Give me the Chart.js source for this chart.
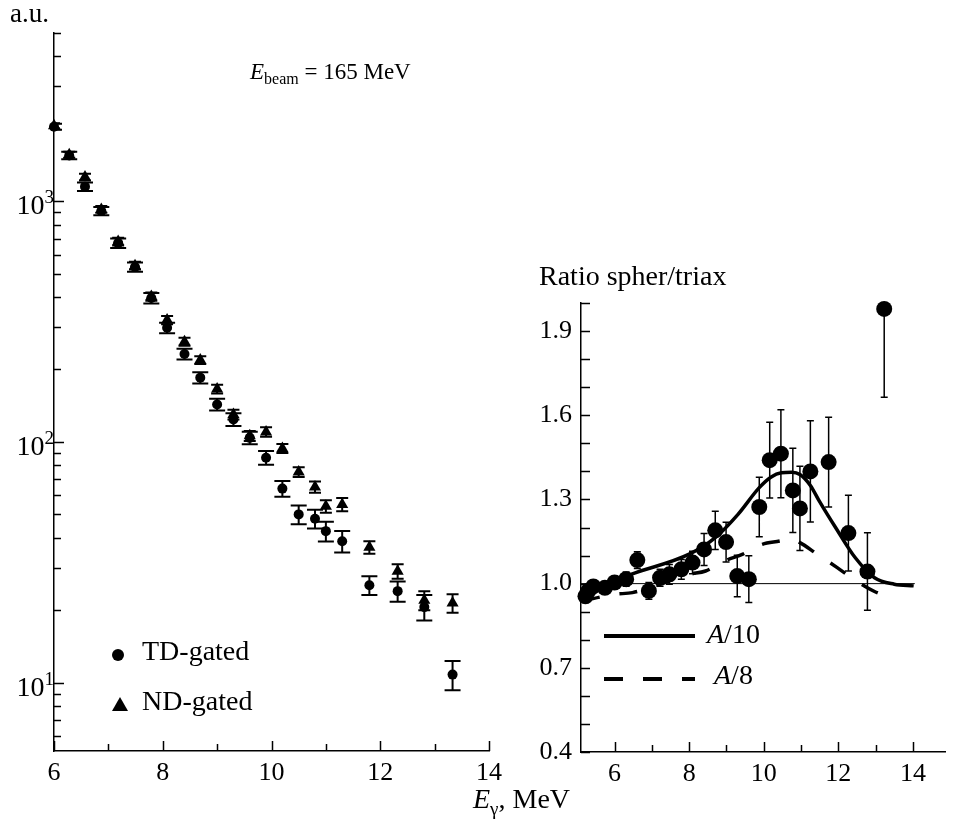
<!DOCTYPE html>
<html>
<head>
<meta charset="utf-8">
<script src="https://cdn.jsdelivr.net/npm/chart.js@4.4.1/dist/chart.umd.min.js"></script>
<style>
  html, body { margin:0; padding:0; background:#fff; }
  #wrap { position:relative; width:953px; height:823px; overflow:hidden; font-family:"Liberation Serif", "DejaVu Serif", serif; color:#000; }
  canvas { position:absolute; top:0; }
  .txt { position:absolute; white-space:nowrap; font-size:28px; line-height:1; }
  .it { font-style:italic; }
  .sub { position:relative; }
  .ylab { position:absolute; white-space:nowrap; font-size:28px; line-height:1; text-align:right; width:60px; }
  .ylab sup { font-size:19px; position:relative; top:-4px; vertical-align:top; }
</style>
</head>
<body>
<div id="wrap">
  <canvas id="leftChart" width="510" height="823" style="left:0;"></canvas>
  <canvas id="rightChart" width="453" height="823" style="left:500px;"></canvas>

  <div class="txt" style="left:10px; top:0px; font-size:27px;">a.u.</div>
  <div class="txt" style="left:250px; top:60px; font-size:23px;"><span class="it">E</span><span class="sub" style="font-size:16px; top:5px;">beam</span> = 165 MeV</div>
  <div class="txt" style="left:539px; top:262px;">Ratio spher/triax</div>
  <div class="txt" style="left:473px; top:785px;"><span class="it">E</span><span class="sub" style="font-size:19px; top:7px;">γ</span>, MeV</div>

  <!-- left legend -->
  <div style="position:absolute; left:112px; top:649px; width:12px; height:12px; border-radius:50%; background:#000;"></div>
  <div class="txt" style="left:142px; top:637px;">TD-gated</div>
  <div style="position:absolute; left:112px; top:697px; width:0; height:0; border-left:8px solid transparent; border-right:8px solid transparent; border-bottom:14px solid #000;"></div>
  <div class="txt" style="left:142px; top:687px;">ND-gated</div>

  <!-- right legend -->
  <div style="position:absolute; left:604px; top:634px; width:91px; height:4px; background:#000;"></div>
  <div class="txt" style="left:707px; top:620px;"><span class="it">A</span>/10</div>
  <div style="position:absolute; left:604px; top:677px; width:91px; height:4px; background:repeating-linear-gradient(to right, #000 0 19px, transparent 19px 39px);"></div>
  <div class="txt" style="left:714px; top:661px;"><span class="it">A</span>/8</div>
</div>

<script>
// ---------- Left panel data: gamma spectra ----------
const energyLeft = [6.0, 6.28, 6.57, 6.87, 7.18, 7.49, 7.79, 8.08, 8.40, 8.69, 9.0, 9.3, 9.6, 9.9, 10.2, 10.5, 10.8, 11.0, 11.3, 11.8, 12.32, 12.81, 13.33];
const tdCounts  = [2040, 1550, 1150, 910, 670, 533, 396, 298, 232, 185, 143, 124, 104, 86, 64, 50, 48, 42.6, 38.7, 25.4, 24, 20.6, 10.8];
const tdErrors  = [60, 55, 46, 36, 30, 24, 20, 15, 12, 10, 8, 7.5, 6.3, 5.6, 4.8, 4.5, 4.3, 4, 4, 2.3, 2.3, 2.5, 1.5];
const ndCounts  = [2060, 1560, 1260, 925, 680, 540, 402, 321, 261, 219, 166, 130, 106, 110, 94, 75, 65, 54, 55, 36.5, 29, 22, 21.4];
const ndErrors  = [50, 45, 40, 30, 25, 20, 16, 13, 10, 8, 7, 6, 5, 5, 4, 3.5, 3.5, 3.2, 3.5, 2.2, 2, 2, 1.9];

// ---------- Right panel data: ratio spher/triax ----------
const energyRight = [5.22, 5.30, 5.43, 5.74, 6.0, 6.31, 6.61, 6.92, 7.22, 7.47, 7.79, 8.09, 8.40, 8.70, 8.99, 9.29, 9.60, 9.88, 10.16, 10.46, 10.78, 10.97, 11.25, 11.74, 12.27, 12.78, 13.23];
const ratioValues = [0.955, 0.975, 0.99, 0.985, 1.004, 1.016, 1.084, 0.974, 1.021, 1.033, 1.051, 1.075, 1.122, 1.19, 1.148, 1.027, 1.016, 1.273, 1.44, 1.463, 1.332, 1.268, 1.40, 1.433, 1.18, 1.043, 1.979];
const ratioErrors = [0.02, 0.02, 0.02, 0.02, 0.02, 0.025, 0.03, 0.03, 0.03, 0.035, 0.035, 0.04, 0.057, 0.068, 0.071, 0.074, 0.083, 0.106, 0.135, 0.157, 0.15, 0.15, 0.18, 0.16, 0.135, 0.138, 0.315];

const a10Energy = [5.13, 6.44, 8.0, 8.70, 9.31, 9.88, 10.2, 10.47, 10.75, 10.97, 11.25, 11.49, 11.93, 12.45, 12.97, 13.50, 14.02];
const a10Ratio  = [0.962, 1.033, 1.105, 1.164, 1.247, 1.342, 1.38, 1.395, 1.397, 1.389, 1.35, 1.294, 1.199, 1.093, 1.021, 0.998, 0.992];
const a8Energy  = [5.13, 6.0, 6.48, 8.0, 8.44, 8.96, 9.44, 9.96, 10.44, 10.7, 10.97, 11.41, 11.97, 12.41, 12.97, 13.41];
const a8Ratio   = [0.938, 0.962, 0.968, 1.033, 1.045, 1.081, 1.105, 1.140, 1.152, 1.16, 1.146, 1.107, 1.057, 1.016, 0.972, 0.95];
const unityEnergy = [5.1, 14.05];
const unityRatio  = [1.0, 1.0];

// ---------- Tick values ----------
const leftXLabels  = [6, 8, 10, 12, 14];
const leftXMinor   = [7, 9, 11, 13];
const leftYLabels  = [10, 100, 1000];
const leftYExponent = { 10: '1', 100: '2', 1000: '3' };
const rightXLabels = [6, 8, 10, 12, 14];
const rightXMinor  = [7, 9, 11, 13];
const rightYLabels = [0.4, 0.7, 1.0, 1.3, 1.6, 1.9];
const rightYMinor  = [0.5, 0.6, 0.8, 0.9, 1.1, 1.2, 1.4, 1.5, 1.7, 1.8, 2.0];

const leftYMinor = [];
for (const dec of [1, 10, 100, 1000]) {
  for (let m = 2; m <= 9; m++) leftYMinor.push(m * dec);
}

const pts = (xs, ys) => xs.map((x, i) => ({ x, y: ys[i] }));

Chart.defaults.font.family = '"Liberation Serif", "DejaVu Serif", serif';
Chart.defaults.font.size = 26;
Chart.defaults.color = '#000';

// inward ticks drawn through the chart's own scales
const inwardTicks = {
  id: 'inwardTicks',
  afterDraw(chart, args, opts) {
    const { ctx, chartArea: a } = chart;
    const xs = chart.scales.x, ys = chart.scales.y;
    ctx.save();
    ctx.strokeStyle = '#000';
    ctx.lineWidth = 1.5;
    ctx.beginPath();
    for (const t of opts.xTicks) {
      if (t.v < xs.min - 1e-9 || t.v > xs.max + 1e-9) continue;
      const px = Math.round(xs.getPixelForValue(t.v)) + 0.5;
      ctx.moveTo(px, a.bottom); ctx.lineTo(px, a.bottom - t.len);
    }
    for (const t of opts.yTicks) {
      if (t.v < ys.min - 1e-9 || t.v > ys.max + 1e-9) continue;
      const py = Math.round(ys.getPixelForValue(t.v)) + 0.5;
      ctx.moveTo(a.left, py); ctx.lineTo(a.left + t.len, py);
    }
    ctx.stroke();
    ctx.restore();
  }
};

const errorBars = {
  id: 'errorBars',
  beforeDatasetsDraw(chart) {
    const { ctx, chartArea: a } = chart;
    chart.data.datasets.forEach((ds, i) => {
      if (!ds.errors) return;
      const meta = chart.getDatasetMeta(i);
      const ys = chart.scales[meta.yAxisID];
      ctx.save();
      ctx.beginPath();
      ctx.rect(a.left, a.top, a.right - a.left, a.bottom - a.top);
      ctx.clip();
      ctx.strokeStyle = '#000';
      ctx.lineWidth = ds.errWidth;
      ctx.beginPath();
      ds.data.forEach((p, j) => {
        const el = meta.data[j];
        const x = el.x;
        const e = ds.errors[j];
        const yT = ys.getPixelForValue(p.y + e);
        const yB = ys.getPixelForValue(p.y - e);
        ctx.moveTo(x, yT); ctx.lineTo(x, yB);
        ctx.moveTo(x - ds.capHalf, yT); ctx.lineTo(x + ds.capHalf, yT);
        ctx.moveTo(x - ds.capHalf, yB); ctx.lineTo(x + ds.capHalf, yB);
      });
      ctx.stroke();
      ctx.restore();
    });
  }
};

// ---------- Left chart ----------
const leftChart = new Chart(document.getElementById('leftChart'), {
  type: 'scatter',
  data: {
    datasets: [
      { label: 'TD-gated', data: pts(energyLeft, tdCounts), errors: tdErrors, errWidth: 2, capHalf: 8,
        pointStyle: 'circle', pointRadius: 5, backgroundColor: '#000', borderColor: '#000', borderWidth: 0, clip: false },
      { label: 'ND-gated', data: pts(energyLeft, ndCounts), errors: ndErrors, errWidth: 2, capHalf: 6,
        pointStyle: 'triangle', pointRadius: 7, backgroundColor: '#000', borderColor: '#000', borderWidth: 0, clip: false }
    ]
  },
  options: {
    responsive: false, animation: false, events: [],
    layout: { padding: { left: 0, top: 33, right: 21, bottom: 32 } },
    plugins: {
      legend: { display: false }, tooltip: { enabled: false },
      inwardTicks: {
        xTicks: leftXLabels.map(v => ({ v, len: 10 })).concat(leftXMinor.map(v => ({ v, len: 7 }))),
        yTicks: leftYLabels.map(v => ({ v, len: 10 })).concat(leftYMinor.map(v => ({ v, len: 7 })))
      }
    },
    scales: {
      x: {
        type: 'linear', min: 6, max: 14,
        afterBuildTicks: s => { s.ticks = leftXLabels.map(v => ({ value: v })); },
        afterFit: s => { s.height = 40; },
        grid: { display: false, drawTicks: false },
        border: { display: true, color: '#000', width: 1.5 },
        ticks: { padding: 7, autoSkip: false, maxRotation: 0, font: { size: 26 } }
      },
      y: {
        type: 'logarithmic', min: 5.2, max: 5000,
        afterBuildTicks: s => { s.ticks = leftYLabels.map(v => ({ value: v })); },
        afterFit: s => { s.width = 54; },
        grid: { display: false, drawTicks: false },
        border: { display: true, color: '#000', width: 1.5 },
        ticks: { display: false }
      }
    }
  },
  plugins: [inwardTicks, errorBars]
});

// power-of-ten labels on the log axis, placed with the chart's y scale
(function () {
  const wrap = document.getElementById('wrap');
  const ys = leftChart.scales.y;
  for (const v of leftYLabels) {
    const py = ys.getPixelForValue(v);
    const d = document.createElement('div');
    d.className = 'ylab';
    d.style.left = (54 - 60) + 'px';
    d.style.top = (py - 10) + 'px';
    d.innerHTML = '10<sup>' + leftYExponent[v] + '</sup>';
    wrap.appendChild(d);
  }
})();

// ---------- Right chart ----------
new Chart(document.getElementById('rightChart'), {
  type: 'scatter',
  data: {
    datasets: [
      { label: 'ratio', data: pts(energyRight, ratioValues), errors: ratioErrors, errWidth: 1.5, capHalf: 3.5,
        pointStyle: 'circle', pointRadius: 8, backgroundColor: '#000', borderColor: '#000', borderWidth: 0, clip: false },
      { label: 'A/10', type: 'line', data: pts(a10Energy, a10Ratio), borderColor: '#000', borderWidth: 3.5,
        pointRadius: 0, cubicInterpolationMode: 'monotone', fill: false },
      { label: 'A/8', type: 'line', data: pts(a8Energy, a8Ratio), borderColor: '#000', borderWidth: 3.5,
        borderDash: [18, 20], pointRadius: 0, cubicInterpolationMode: 'monotone', fill: false },
      { label: 'unity', type: 'line', data: pts(unityEnergy, unityRatio), borderColor: '#000', borderWidth: 1,
        pointRadius: 0, fill: false }
    ]
  },
  options: {
    responsive: false, animation: false, events: [],
    layout: { padding: { left: 0, top: 303, right: 0, bottom: 31 } },
    plugins: {
      legend: { display: false }, tooltip: { enabled: false },
      inwardTicks: {
        xTicks: rightXLabels.map(v => ({ v, len: 10 })).concat(rightXMinor.map(v => ({ v, len: 7 }))),
        yTicks: rightYLabels.map(v => ({ v, len: 9 })).concat(rightYMinor.map(v => ({ v, len: 9 })))
      }
    },
    scales: {
      x: {
        type: 'linear', min: 5.1, max: 14.86,
        afterBuildTicks: s => { s.ticks = rightXLabels.map(v => ({ value: v })); },
        afterFit: s => { s.height = 40; },
        grid: { display: false, drawTicks: false },
        border: { display: true, color: '#000', width: 1.5 },
        ticks: { padding: 7, autoSkip: false, maxRotation: 0, font: { size: 26 } }
      },
      y: {
        type: 'linear', min: 0.4, max: 2.0,
        afterBuildTicks: s => { s.ticks = rightYLabels.map(v => ({ value: v })); },
        afterFit: s => { s.width = 81; },
        grid: { display: false, drawTicks: false },
        border: { display: true, color: '#000', width: 1.5 },
        ticks: { padding: 9, autoSkip: false, font: { size: 26 }, callback: v => Number(v).toFixed(1) }
      }
    }
  },
  plugins: [inwardTicks, errorBars]
});
</script>
</body>
</html>
